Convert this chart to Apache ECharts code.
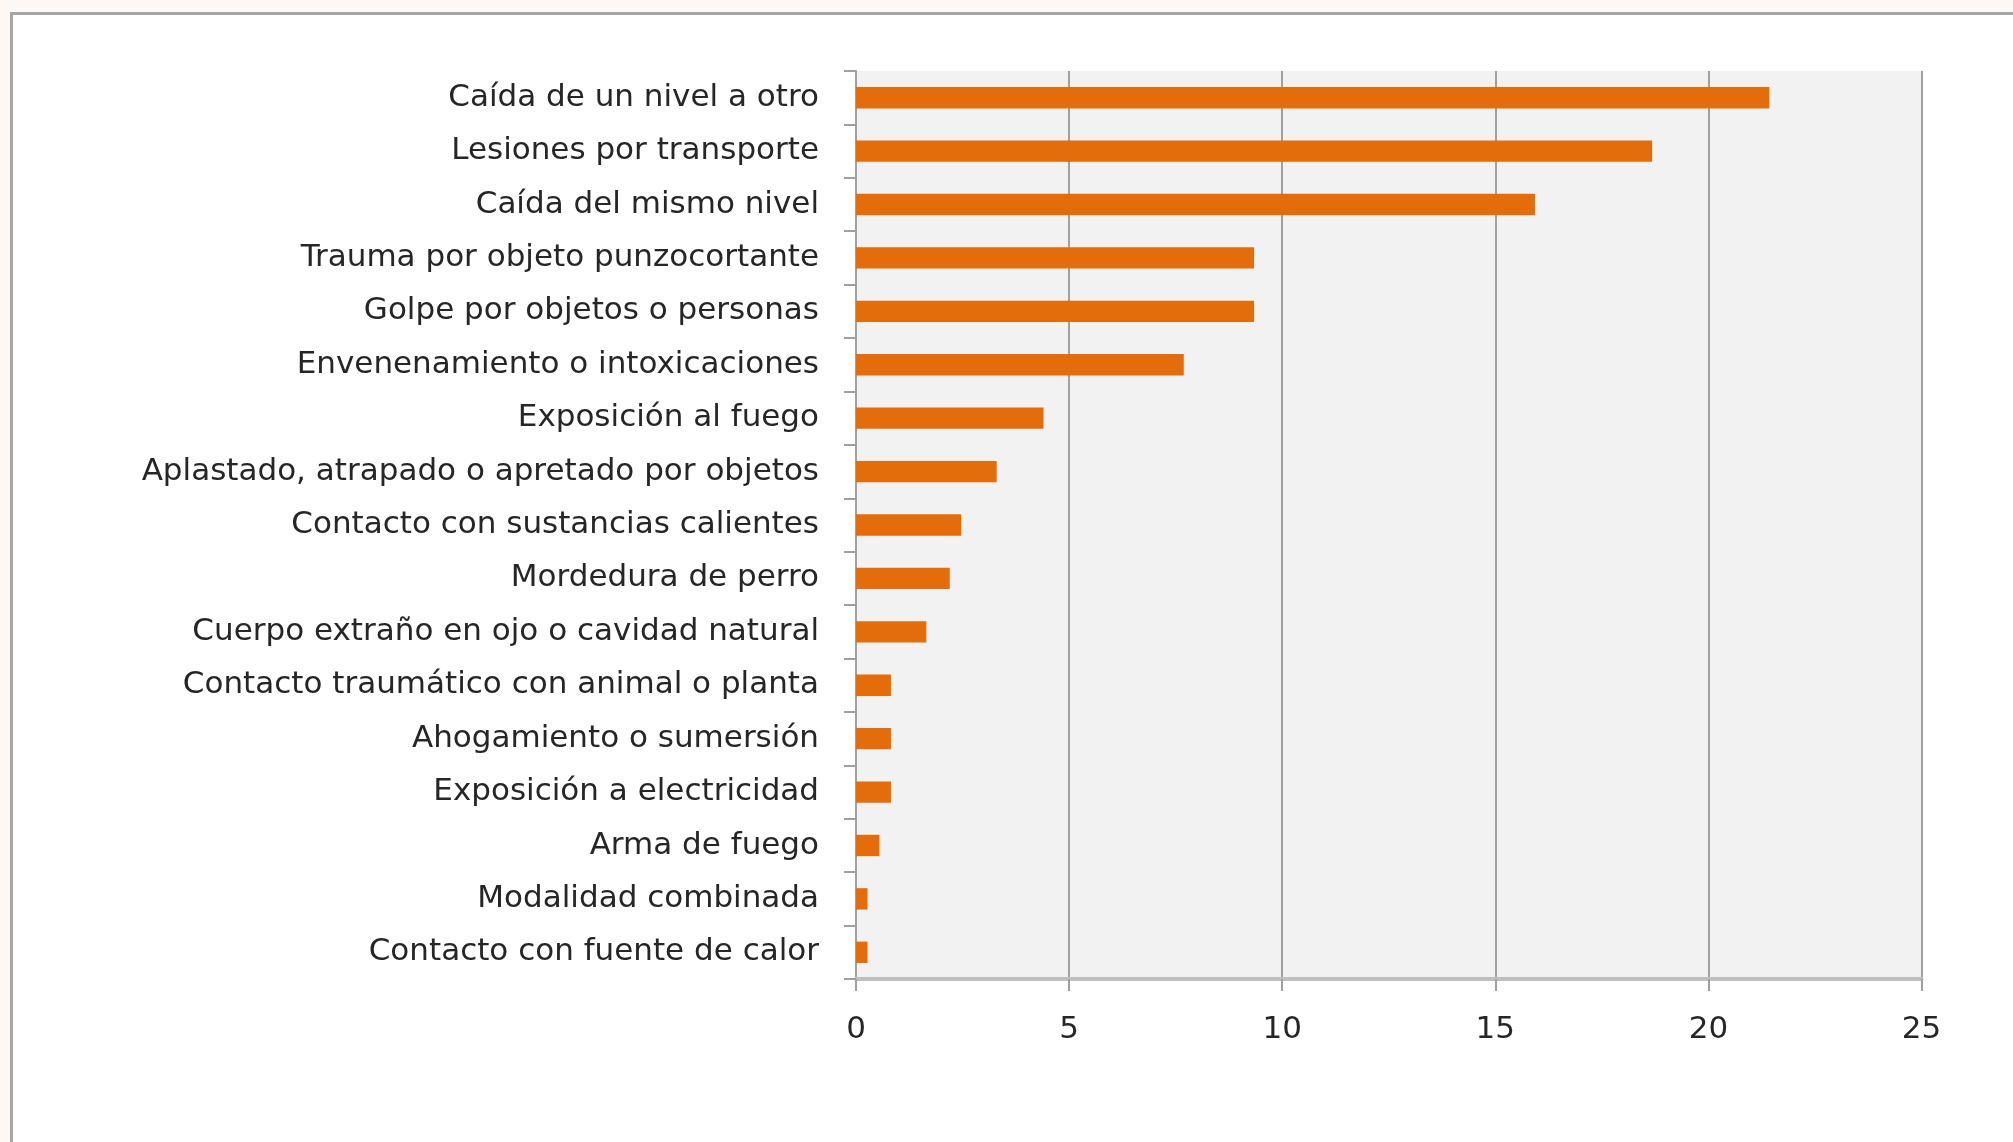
<!DOCTYPE html>
<html>
<head>
<meta charset="utf-8">
<script src="https://cdn.jsdelivr.net/npm/echarts@6/dist/echarts.min.js"></script>
<style>
  html, body { margin: 0; padding: 0; width: 2013px; height: 1142px; overflow: hidden; background: #fdf8f3; }
  #frame { position: absolute; left: 10px; top: 12px; width: 2100px; height: 1200px; background: #ffffff;
           border-left: 3px solid #a6a6a6; border-top: 3px solid #a6a6a6; box-sizing: border-box; }
  #chart { position: absolute; left: 0; top: 0; width: 2013px; height: 1142px; }
</style>
</head>
<body>
<div id="frame"></div>
<div id="chart"></div>
<script>
const categories = [
  "Caída de un nivel a otro",
  "Lesiones por transporte",
  "Caída del mismo nivel",
  "Trauma por objeto punzocortante",
  "Golpe por objetos o personas",
  "Envenenamiento o intoxicaciones",
  "Exposición al fuego",
  "Aplastado, atrapado o apretado por objetos",
  "Contacto con sustancias calientes",
  "Mordedura de perro",
  "Cuerpo extraño en ojo o cavidad natural",
  "Contacto traumático con animal o planta",
  "Ahogamiento o sumersión",
  "Exposición a electricidad",
  "Arma de fuego",
  "Modalidad combinada",
  "Contacto con fuente de calor"
];
const values = [21.43, 18.68, 15.93, 9.34, 9.34, 7.69, 4.40, 3.30, 2.47, 2.20, 1.65, 0.82, 0.82, 0.82, 0.55, 0.27, 0.27];
const xTicks = [0, 5, 10, 15, 20, 25];

const chart = echarts.init(document.getElementById('chart'), null, { renderer: 'canvas' });
chart.setOption({
  animation: false,
  backgroundColor: 'transparent',
  grid: {
    left: 856, top: 71, right: 91.5, bottom: 163,
    show: true, backgroundColor: '#f2f2f2', borderWidth: 0,
    containLabel: false
  },
  xAxis: {
    type: 'value',
    min: xTicks[0], max: xTicks[xTicks.length - 1], interval: 5,
    axisLine: { show: true, onZero: false, lineStyle: { color: '#bfbfbf', width: 4 } },
    axisTick: { show: true, length: 12, lineStyle: { color: '#a0a0a0', width: 2 } },
    splitLine: { show: true, lineStyle: { color: '#a0a0a0', width: 2 } },
    axisLabel: { margin: 35, fontFamily: 'DejaVu Sans', fontSize: 31, color: '#262626' }
  },
  yAxis: {
    type: 'category',
    data: categories,
    inverse: true,
    axisLine: { show: true, lineStyle: { color: '#a0a0a0', width: 2 } },
    axisTick: { show: true, length: 12, alignWithLabel: false, lineStyle: { color: '#a0a0a0', width: 2 } },
    splitLine: { show: false },
    axisLabel: { margin: 37, fontFamily: 'DejaVu Sans', fontSize: 31, color: '#262626' }
  },
  series: [{
    type: 'bar',
    data: values,
    barCategoryGap: '60%',
    itemStyle: { color: '#e46c0a' }
  }]
});
</script>
</body>
</html>
